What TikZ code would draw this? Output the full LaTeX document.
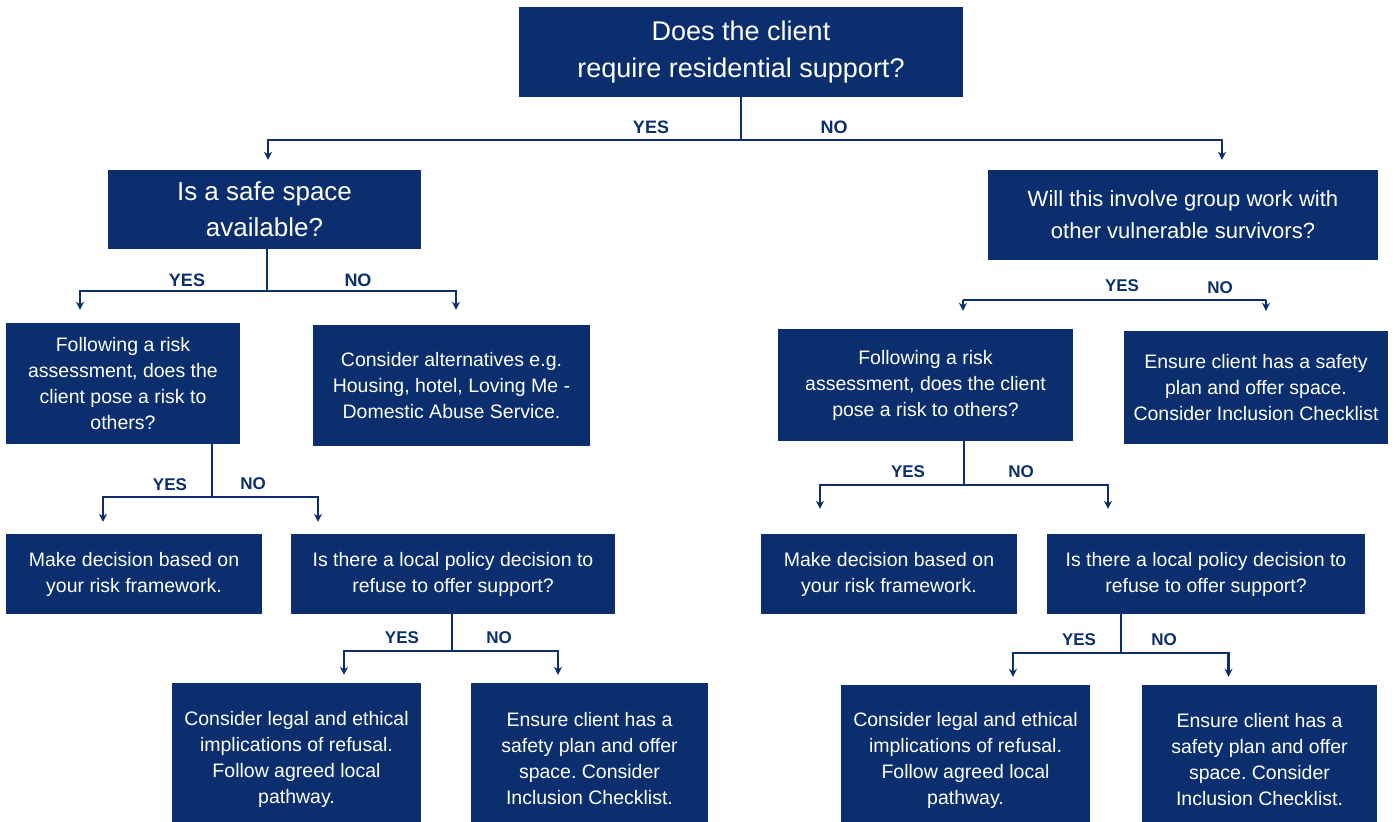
\documentclass[tikz,border=0pt]{standalone}
\usepackage{fontspec}
\setmainfont{Liberation Sans}
\usetikzlibrary{arrows.meta,calc}
\definecolor{navy}{HTML}{0B2F6E}
\frenchspacing
\begin{document}
\begin{tikzpicture}[x=1pt,y=-1pt,
  box/.style={fill=navy,text=white,align=center,inner sep=0pt,anchor=center},
  huge/.style={font=\fontsize{27}{37}\selectfont},
  big/.style={font=\fontsize{26}{36}\selectfont},
  mid/.style={font=\fontsize{22}{32}\selectfont},
  small/.style={font=\fontsize{19.5}{26}\selectfont},
  link/.style={draw=navy,line width=2.2pt},
  arr/.style={link,-{Stealth[length=8pt,width=8pt]}},
  lab/.style={text=navy,font=\bfseries\fontsize{18}{20}\selectfont,inner sep=0pt},
  slab/.style={lab,font=\bfseries\fontsize{17}{20}\selectfont}]
\useasboundingbox (0,0) rectangle (1398,822);
\clip (0,0) rectangle (1398,822);
\fill[white] (0,0) rectangle (1398,822);

% ---------- boxes ----------
\node[box,huge,minimum width=444pt,minimum height=90pt] (top) at (741,52)
  {Does the client\\require residential support?};
\node[box,big,minimum width=313pt,minimum height=79pt] (safe) at (264.5,209.5)
  {Is a safe space\\available?};
\node[box,mid,minimum width=390pt,minimum height=90pt] (will) at (1183,215)
  {Will this involve group work with\\other vulnerable survivors?};

\node[box,small,minimum width=234pt,minimum height=121pt] (followL) at (123,383.5)
  {Following a risk\\assessment, does the\\client pose a risk to\\others?};
\node[box,small,minimum width=277pt,minimum height=121pt] (altern) at (451.5,385.5)
  {Consider alternatives e.g.\\Housing, hotel, Loving Me -\\Domestic Abuse Service.};
\node[box,small,minimum width=295pt,minimum height=112pt] (followR) at (925.5,385)
  {Following a risk\\assessment, does the client\\pose a risk to others?};
\node[box,small,minimum width=264pt,minimum height=113pt] (ensureA) at (1256,387.5)
  {Ensure client has a safety\\plan and offer space.\\Consider Inclusion Checklist};

\node[box,small,minimum width=256pt,minimum height=80pt] (makeL) at (134,574)
  {Make decision based on\\your risk framework.};
\node[box,small,minimum width=324pt,minimum height=80pt] (policyL) at (453,574)
  {Is there a local policy decision to\\refuse to offer support?};
\node[box,small,minimum width=256pt,minimum height=80pt] (makeR) at (889,574)
  {Make decision based on\\your risk framework.};
\node[box,small,minimum width=318pt,minimum height=80pt] (policyR) at (1206,574)
  {Is there a local policy decision to\\refuse to offer support?};

\node[box,small,minimum width=249pt,minimum height=152pt] (legalL) at (296.5,759)
  {Consider legal and ethical\\implications of refusal.\\Follow agreed local\\pathway.};
\node[box,small,minimum width=237pt,minimum height=152pt] (ensureL) at (589.5,759)
  {Ensure client has a\\safety plan and offer\\space. Consider\\Inclusion Checklist.};
\node[box,small,minimum width=249pt,minimum height=150pt] (legalR) at (965.5,760)
  {Consider legal and ethical\\implications of refusal.\\Follow agreed local\\pathway.};
\node[box,small,minimum width=235pt,minimum height=150pt] (ensureR) at (1259.5,760)
  {Ensure client has a\\safety plan and offer\\space. Consider\\Inclusion Checklist.};

% ---------- connectors ----------
% residential support?
\draw[link] (top.south) -- (top.south |- 0,140) coordinate (j1);
\draw[arr] (j1) -| ($(safe.north)+(3.5,-10)$);
\draw[arr] (j1) -| ($(will.north)+(39,-10)$);
\node[lab] (y1) at (651,127) {YES};
\node[lab] (n1) at (834,127) {NO};

% safe space?
\draw[link] ($(safe.south)+(2.5,0)$) -- ($(safe.south)+(2.5,42)$) coordinate (j2);
\draw[arr] (j2) -| ($(followL.north)+(-43,-13)$);
\draw[arr] (j2) -| ($(altern.north)+(4.5,-15)$);
\node[lab] (y2) at (187,280) {YES};
\node[lab] (n2) at (358,280) {NO};

% risk to others (left)
\draw[link] ($(followL.south)+(89,0)$) -- ($(followL.south)+(89,53)$) coordinate (j3);
\draw[arr] (j3) -| ($(makeL.north)+(-31,-12)$);
\draw[arr] (j3) -| ($(policyL.north)+(-135,-12)$);
\node[slab] (y3) at (170,485) {YES};
\node[slab] (n3) at (253,484) {NO};

% local policy (left)
\draw[link] ($(policyL.south)+(-1,0)$) -- ($(policyL.south)+(-1,37)$) coordinate (j4);
\draw[arr] (j4) -| ($(legalL.north)+(47.5,-8)$);
\draw[arr] (j4) -| ($(ensureL.north)+(-31.5,-8)$);
\node[slab] (y4) at (402,638) {YES};
\node[slab] (n4) at (499,638) {NO};

% group work?
\coordinate (j5a) at ($(followR.north)+(37.5,-29)$);
\coordinate (j5b) at ($(ensureA.north)+(10,-31)$);
\draw[link] (j5a) -- (j5b);
\draw[arr] (j5a) -- ($(followR.north)+(37.5,-18)$);
\draw[arr] (j5b) -- ($(ensureA.north)+(10,-20)$);
\node[slab] (y5) at (1122,286) {YES};
\node[slab] (n5) at (1220,288) {NO};

% risk to others (right)
\draw[link] ($(followR.south)+(38.5,0)$) -- ($(followR.south)+(38.5,44)$) coordinate (j6);
\draw[arr] (j6) -| ($(makeR.north)+(-69,-25)$);
\draw[arr] (j6) -| ($(policyR.north)+(-98,-25)$);
\node[slab] (y6) at (908,472) {YES};
\node[slab] (n6) at (1021,472) {NO};

% local policy (right)
\draw[link] ($(policyR.south)+(-85,0)$) -- ($(policyR.south)+(-85,39)$) coordinate (j7);
\draw[arr] (j7) -| ($(legalR.north)+(47.5,-8)$);
\draw[arr] (j7) -| ($(ensureR.north)+(-31,-8)$);
\node[slab] (y7) at (1079,640) {YES};
\node[slab] (n7) at (1164,640) {NO};
\end{tikzpicture}
\end{document}
